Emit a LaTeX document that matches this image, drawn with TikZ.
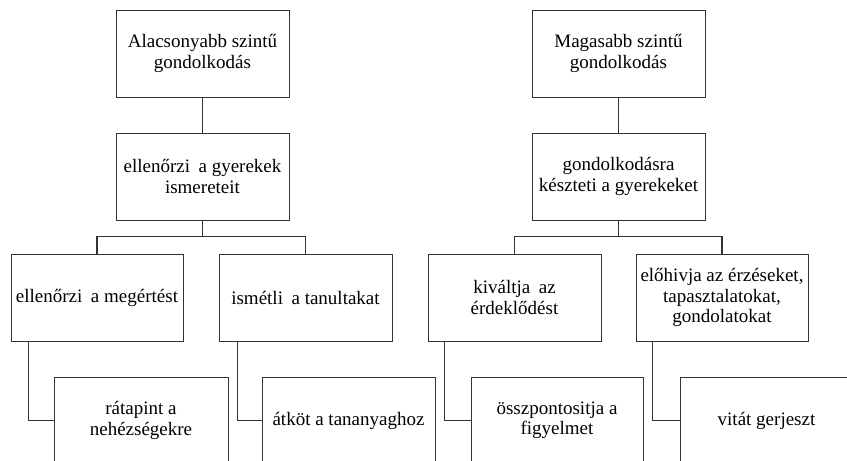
\documentclass[tikz,border=0pt]{standalone}
\usepackage{fontspec}
\setmainfont{Liberation Serif}
\usetikzlibrary{calc}
\begin{document}
\begin{tikzpicture}[x=1pt,y=-1pt,
  box/.style={draw=black!80, line width=1pt, rectangle, minimum width=173pt,
    minimum height=87pt, inner sep=0pt, align=center,
    font=\fontsize{19}{20.5}\selectfont},
  link/.style={draw=black!80, line width=1.1pt}]
\useasboundingbox (0,0) rectangle (847,461);
\clip (0,0) rectangle (847,461);
\newcommand{\dsp}{\hspace{0.45em}}
% left tree
\node[box] (a1) at (202.5,53.5) {Alacsonyabb szintű\\gondolkodás};
\node[box] (a2) at (202.5,176.5) {ellenőrzi\dsp a gyerekek\\ismereteit};
\node[box, minimum width=172pt] (a3) at (97,297.5) {ellenőrzi\dsp a megértést};
\node[box] (a4) at (305.5,297.5) {ismétli\dsp a tanultakat};
\node[box, minimum width=174pt] (a5) at (141,420.5) {rátapint a\\nehézségekre};
\node[box] (a6) at (348.5,420.5) {átköt a tananyaghoz};
% right tree
\node[box] (b1) at (618.5,53.5) {Magasabb szintű\\gondolkodás};
\node[box] (b2) at (618.5,176.5) {gondolkodásra\\készteti a gyerekeket};
\node[box] (b3) at (514.5,297.5) {kiváltja\dsp az\\érdeklődést};
\node[box, minimum width=172pt] (b4) at (722,297.5) {előhivja az érzéseket,\\tapasztalatokat,\\gondolatokat};
\node[box, minimum width=172pt] (b5) at (557,420.5) {összpontositja a\\figyelmet};
\node[box] (b6) at (766.5,420.5) {vitát gerjeszt};
% junction points
\coordinate (aj) at ($(a2.south)+(0,16)$);
\coordinate (bj) at ($(b2.south)+(0,16)$);
% connectors
\draw[link] (a1.south) -- (a2.north);
\draw[link] (a2.south) -- (aj);
\draw[link] (a3.north) |- (aj) -| (a4.north);
\draw[link] ([xshift=18pt]a3.south west) |- (a5.west);
\draw[link] ([xshift=19pt]a4.south west) |- (a6.west);
\draw[link] (b1.south) -- (b2.north);
\draw[link] (b2.south) -- (bj);
\draw[link] (b3.north) |- (bj) -| (b4.north);
\draw[link] ([xshift=17pt]b3.south west) |- (b5.west);
\draw[link] ([xshift=17pt]b4.south west) |- (b6.west);
\end{tikzpicture}
\end{document}
